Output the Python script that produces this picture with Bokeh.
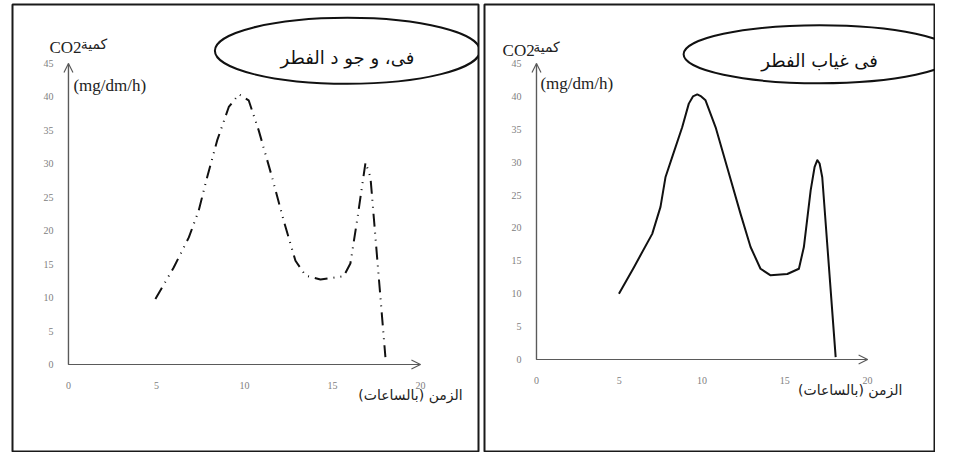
from bokeh.plotting import figure
from bokeh.layouts import row
from bokeh.models import Range1d, LinearAxis, Arrow, OpenHead, Label, FixedTicker
from bokeh.embed import file_html
from bokeh.resources import INLINE

# ---- data ----
x_ticks = [0, 5, 10, 15, 20]
y_ticks = [0, 5, 10, 15, 20, 25, 30, 35, 40, 45]

with_fungus_hours = [4.94, 5.98, 6.84, 7.40, 7.88, 8.45, 9.11, 9.68, 10.24, 10.81, 11.57,
                     12.23, 12.9, 13.47, 14.32, 15.64, 16.02, 16.40, 16.88, 17.16, 18.01]
with_fungus_co2 = [9.8, 14.5, 19.0, 23.0, 28.0, 33.5, 38.5, 40.4, 39.5, 35.0, 28.0,
                   21.5, 15.5, 13.3, 12.7, 13.2, 15.1, 21.5, 30.2, 28.0, 1.1]

without_fungus_hours = [4.98, 5.88, 6.99, 7.49, 7.79, 8.2, 8.80, 9.2, 9.45, 9.71, 9.95,
                        10.21, 10.82, 11.52, 12.33, 12.93, 13.53, 14.14, 15.15, 15.85,
                        16.15, 16.56, 16.8, 16.96, 17.1, 17.26, 18.07]
without_fungus_co2 = [10.0, 14.0, 19.1, 23.2, 27.7, 30.8, 35.3, 38.9, 40.0, 40.3, 40.0,
                      39.4, 35.3, 29.2, 22.1, 17.1, 13.8, 12.8, 13.0, 13.8,
                      17.1, 25.7, 29.3, 30.3, 29.8, 27.7, 0.35]

title_with = "فى، و جو د الفطر"
title_without = "فى غياب الفطر"
y_label_arabic = "كمية"
y_label_co2 = "CO2"
y_unit = "(mg/dm/h)"
x_label = "الزمن (بالساعات)"

TICK_FONT = "Liberation Sans Narrow"
AXIS_COLOR = "#5a5a5a"


def make_panel(xs, ys, x_range, y_range, width, mb_left, mb_right, dash,
               title, ell_xy, ell_wh, co2_xy, arab_x, unit_xy, xlab_xy):
    p = figure(width=width, height=452, output_backend="svg", toolbar_location=None,
               x_range=Range1d(*x_range), y_range=Range1d(*y_range),
               x_axis_type=None, y_axis_type=None,
               min_border_left=mb_left, min_border_right=mb_right,
               min_border_top=4, min_border_bottom=0)
    p.grid.visible = False
    p.outline_line_color = "#1a1a1a"
    p.outline_line_width = 2
    p.background_fill_color = "white"
    p.border_fill_color = "white"

    xa = LinearAxis(fixed_location=0, ticker=FixedTicker(ticks=x_ticks), bounds=(0, 20))
    ya = LinearAxis(fixed_location=0, ticker=FixedTicker(ticks=y_ticks), bounds=(0, 45))
    for ax in (xa, ya):
        ax.axis_line_color = AXIS_COLOR
        ax.axis_line_width = 1.2
        ax.major_tick_line_color = None
        ax.minor_tick_line_color = None
        ax.major_label_text_font = TICK_FONT
        ax.major_label_text_font_size = "10px"
        ax.major_label_text_color = "#808080"
    xa.major_label_standoff = 12
    ya.major_label_standoff = 9
    p.add_layout(xa, "below")
    p.add_layout(ya, "left")

    p.add_layout(Arrow(end=OpenHead(size=9, line_color=AXIS_COLOR, line_width=1.2),
                       x_start=0, y_start=0, x_end=20, y_end=0,
                       line_color=AXIS_COLOR, line_width=1.2))
    p.add_layout(Arrow(end=OpenHead(size=9, line_color=AXIS_COLOR, line_width=1.2),
                       x_start=0, y_start=0, x_end=0, y_end=45,
                       line_color=AXIS_COLOR, line_width=1.2))

    if dash:
        p.line(xs, ys, line_color="#111111", line_width=2, line_dash="13 6 1 6 1 6")
    else:
        p.line(xs, ys, line_color="#111111", line_width=2, line_join="round")

    p.ellipse(x=[ell_xy[0]], y=[ell_xy[1]], width=ell_wh[0], height=ell_wh[1],
              width_units="screen", height_units="screen",
              fill_color=None, line_color="#111111", line_width=2)
    p.add_layout(Label(x=ell_xy[0], y=ell_xy[1] - 1.0, text=title,
                       text_align="center", text_baseline="middle",
                       text_font="DejaVu Sans", text_font_size="18px",
                       text_color="#111111"))

    p.add_layout(Label(x=co2_xy[0], y=co2_xy[1], text=y_label_co2,
                       text_align="left", text_baseline="middle",
                       text_font="Liberation Serif", text_font_size="17px",
                       text_color="#222222"))
    p.add_layout(Label(x=arab_x, y=co2_xy[1] + 0.5, text=y_label_arabic,
                       text_align="left", text_baseline="middle",
                       text_font="DejaVu Sans", text_font_size="14px",
                       text_color="#222222"))
    p.add_layout(Label(x=unit_xy[0], y=unit_xy[1], text=y_unit,
                       text_align="left", text_baseline="middle",
                       text_font="Liberation Serif", text_font_size="17px",
                       text_color="#222222"))
    p.add_layout(Label(x=xlab_xy[0], y=xlab_xy[1], text=x_label,
                       text_align="right", text_baseline="middle",
                       text_font="DejaVu Sans", text_font_size="14px",
                       text_color="#222222"))
    return p


left = make_panel(with_fungus_hours, with_fungus_co2,
                  x_range=(-3.18, 23.3), y_range=(-13.16, 53.82),
                  width=481, mb_left=12, mb_right=3, dash=True,
                  title=title_with, ell_xy=(15.85, 46.9), ell_wh=(265, 66),
                  co2_xy=(-1.08, 47.4), arab_x=0.7, unit_xy=(0.28, 41.7),
                  xlab_xy=(22.4, -4.63))

right = make_panel(without_fungus_hours, without_fungus_co2,
                   x_range=(-3.14, 24.1), y_range=(-14.14, 53.97),
                   width=454, mb_left=3, mb_right=0, dash=False,
                   title=title_without, ell_xy=(17.1, 46.4), ell_wh=(272, 58),
                   co2_xy=(-2.05, 47.0), arab_x=-0.2, unit_xy=(0.24, 42.0),
                   xlab_xy=(22.1, -4.7))

layout = row(left, right, spacing=0)
open("out.html", "w").write(file_html(layout, INLINE))
